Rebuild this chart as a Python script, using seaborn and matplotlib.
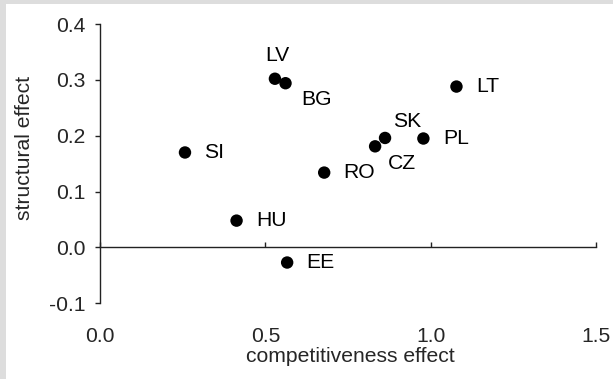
import matplotlib
matplotlib.use("Agg")
import matplotlib.pyplot as plt
import seaborn as sns
import pandas as pd
from matplotlib.patches import Rectangle

# Country data: competitiveness effect (x) vs structural effect (y)
countries = ["SI", "LV", "BG", "LT", "SK", "CZ", "PL", "RO", "HU", "EE"]
competitiveness = [0.257, 0.529, 0.561, 1.078, 0.862, 0.832, 0.978, 0.678, 0.413, 0.566]
structural = [0.170, 0.302, 0.294, 0.288, 0.196, 0.181, 0.195, 0.134, 0.048, -0.027]

# Label offsets in points relative to each marker
label_offsets = {
    "SI": (14, 0), "LV": (2, 17), "BG": (11, -12), "LT": (14, 0),
    "SK": (6, 12), "CZ": (9, -12), "PL": (14, 0), "RO": (14, 0),
    "HU": (14, 0), "EE": (14, 0),
}
label_ha = {"LV": "center"}

x_ticks = [0.0, 0.5, 1.0, 1.5]
y_ticks = [-0.1, 0.0, 0.1, 0.2, 0.3, 0.4]

df = pd.DataFrame({"country": countries,
                   "competitiveness effect": competitiveness,
                   "structural effect": structural})

FS = 15.2

sns.set_theme(style="white")
plt.rcParams["font.family"] = ["Liberation Sans", "DejaVu Sans"]
plt.rcParams["font.size"] = FS

W, H = 613, 379
fig = plt.figure(figsize=(W / 100, H / 100), dpi=100)
fig.patch.set_facecolor("#dddddd")
fig.patches.append(Rectangle((6 / W, 0), 1 - 6 / W, 1 - 4 / H,
                             transform=fig.transFigure, facecolor="white",
                             edgecolor="none", zorder=-10))

left, right, top, bottom = 100, 596, 24, 303.3
ax = fig.add_axes([left / W, (H - bottom) / H, (right - left) / W, (bottom - top) / H])
ax.set_facecolor("none")

sns.scatterplot(data=df, x="competitiveness effect", y="structural effect",
                ax=ax, color="black", s=80, edgecolor="none", zorder=3,
                clip_on=False)

for c, xv, yv in zip(countries, competitiveness, structural):
    dx, dy = label_offsets[c]
    ax.annotate(c, (xv, yv), xytext=(dx, dy), textcoords="offset points",
                ha=label_ha.get(c, "left"), va="center", fontsize=FS,
                color="black")

ax.set_xlim(0, 1.5)
ax.set_ylim(-0.1, 0.4)
ax.set_xticks(x_ticks)
ax.set_xticklabels([f"{v:.1f}" for v in x_ticks])
ax.set_yticks(y_ticks)
ax.set_yticklabels([f"{v:.1f}" for v in y_ticks])

for s in ("top", "right"):
    ax.spines[s].set_visible(False)
ax.spines["bottom"].set_position(("data", 0))
for s in ("left", "bottom"):
    ax.spines[s].set_color("#222222")
    ax.spines[s].set_linewidth(1.0)

ax.tick_params(axis="x", direction="in", length=3.5, width=1.0,
               color="#222222", pad=57, labelsize=FS, bottom=True)
ax.tick_params(axis="y", direction="out", length=3.5, width=1.0,
               color="#222222", pad=7, labelsize=FS, left=True)

ax.set_xlabel("competitiveness effect", fontsize=FS)
ax.set_ylabel("structural effect", fontsize=FS)
ax.xaxis.set_label_coords(0.5 + 2 / (right - left), -(357 - bottom) / (bottom - top))
ax.xaxis.label.set_va("center")
ax.yaxis.set_label_coords(-(left - 25) / (right - left), (bottom - 148) / (bottom - top))
ax.yaxis.label.set_va("center")

fig.savefig("out.png", dpi=100, facecolor=fig.get_facecolor())
